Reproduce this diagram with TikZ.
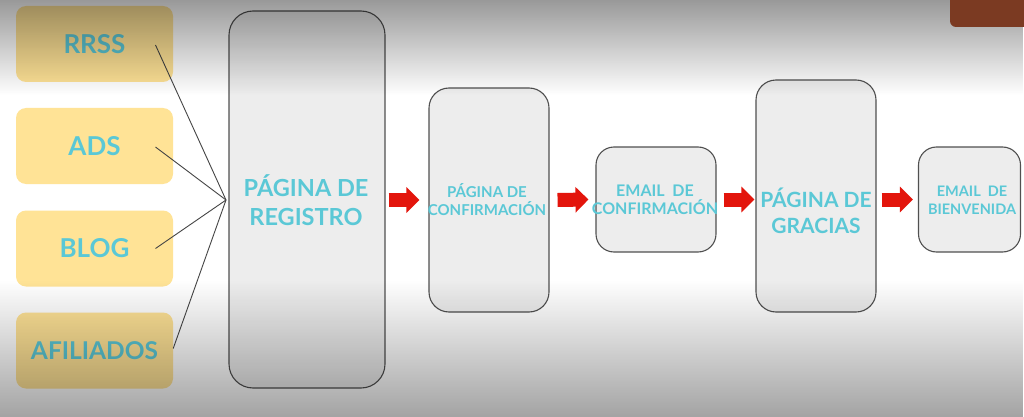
\documentclass[tikz,border=0pt]{standalone}
\usepackage{fontspec}
\setmainfont{Lato}
\usetikzlibrary{arrows.meta,fadings}
\definecolor{cyantext}{HTML}{5BC8D6}
\definecolor{yel}{HTML}{FFE396}
\definecolor{boxfill}{HTML}{EDEDED}
\definecolor{boxline}{HTML}{505050}
\definecolor{arrred}{HTML}{E3150C}
\definecolor{tabbrown}{HTML}{7B3A22}
\definecolor{connline}{HTML}{454545}
\tikzfading[name=fadetop, top color=transparent!0, bottom color=transparent!100]
\tikzfading[name=fadebot, top color=transparent!100, bottom color=transparent!0]
\tikzset{
  srcbox/.style={fill=yel, draw=none, rounded corners=10pt, minimum width=157pt, minimum height=76pt, inner sep=0pt},
  stagebox/.style={fill=boxfill, draw=boxline, line width=1.1pt, inner sep=0pt},
  lbl/.style={text=cyantext, font=\bfseries, align=center, inner sep=0pt},
  conn/.style={draw=connline, line width=0.9pt},
  redarrow/.style={draw=arrred, line width=14pt, -{Triangle[length=13pt,width=25pt]}},
}
\begin{document}
\begin{tikzpicture}[x=1pt,y=-1pt]
\useasboundingbox (0,0) rectangle (1024,417);
\fill[white] (0,0) rectangle (1024,417);
% source boxes
\node[srcbox] (rrss) at (94.5,44) {};
\node[srcbox] (ads) at (94.5,146) {};
\node[srcbox] (blog) at (94.5,248.5) {};
\node[srcbox] (afil) at (94.5,350.5) {};
\node[lbl, font=\fontsize{26}{28}\bfseries\selectfont] (rrssT) at (rrss) {RRSS};
\node[lbl, font=\fontsize{26}{28}\bfseries\selectfont] (adsT) at (ads) {ADS};
\node[lbl, font=\fontsize{26}{28}\bfseries\selectfont] (blogT) at (blog) {BLOG};
\node[lbl, font=\fontsize{24.5}{28}\bfseries\selectfont] (afilT) at (afil) {AFILIADOS};
% stage boxes
\node[stagebox, rounded corners=24pt, minimum width=156pt, minimum height=377pt] (reg) at (307,199.5) {};
\node[stagebox, rounded corners=20pt, minimum width=120pt, minimum height=224pt] (conf) at (489,200) {};
\node[stagebox, rounded corners=18pt, minimum width=120pt, minimum height=105pt] (ec) at (656,199.5) {};
\node[stagebox, rounded corners=20pt, minimum width=120pt, minimum height=232pt] (gr) at (816,196) {};
\node[stagebox, rounded corners=18pt, minimum width=102pt, minimum height=105pt] (eb) at (969.5,199.5) {};
\node[lbl, font=\fontsize{23.5}{29}\bfseries\selectfont] (regT) at (306,200) {PÁGINA DE\\REGISTRO};
\node[lbl, font=\fontsize{15}{18}\bfseries\selectfont] (confT) at (487,200) {PÁGINA DE\\CONFIRMACIÓN};
\node[lbl, font=\fontsize{16}{18}\bfseries\selectfont] (ecT) at (655,200) {EMAIL~ DE\\CONFIRMACIÓN};
\node[lbl, font=\fontsize{21}{26}\bfseries\selectfont] (grT) at (816,211) {PÁGINA DE\\GRACIAS};
\node[lbl, font=\fontsize{14.5}{18}\bfseries\selectfont] (ebT) at (972,200) {EMAIL~ DE\\BIENVENIDA};
% connectors
\coordinate (hub) at (226,200);
\draw[conn] ([xshift=61pt,yshift=-1pt]rrss.center) -- (hub);
\draw[conn] ([xshift=61pt,yshift=-1pt]ads.center) -- (hub);
\draw[conn] ([xshift=61pt]blog.center) -- (hub);
\draw[conn] ([yshift=2pt]afil.east) -- (hub);
% red arrows
\draw[redarrow] ([xshift=3pt]reg.east |- conf.west) -- ([xshift=-9pt]conf.west);
\draw[redarrow] ([xshift=8pt]conf.east) -- ([xshift=-7pt]ec.west);
\draw[redarrow] ([xshift=7pt]ec.east) -- ([xshift=-1pt]ec.east -| gr.west);
\draw[redarrow] ([xshift=5pt]gr.east |- eb.west) -- ([xshift=-5pt]eb.west);
% shading overlays (vignette)
\fill[black, fill opacity=0.4, path fading=fadetop] (0,0) rectangle (1024,95);
\fill[black, fill opacity=0.36, path fading=fadebot] (0,280) rectangle (1024,417);
% top-right tab
\fill[tabbrown, rounded corners=6pt] (950,-10) rectangle (1034,27);
\end{tikzpicture}
\end{document}
